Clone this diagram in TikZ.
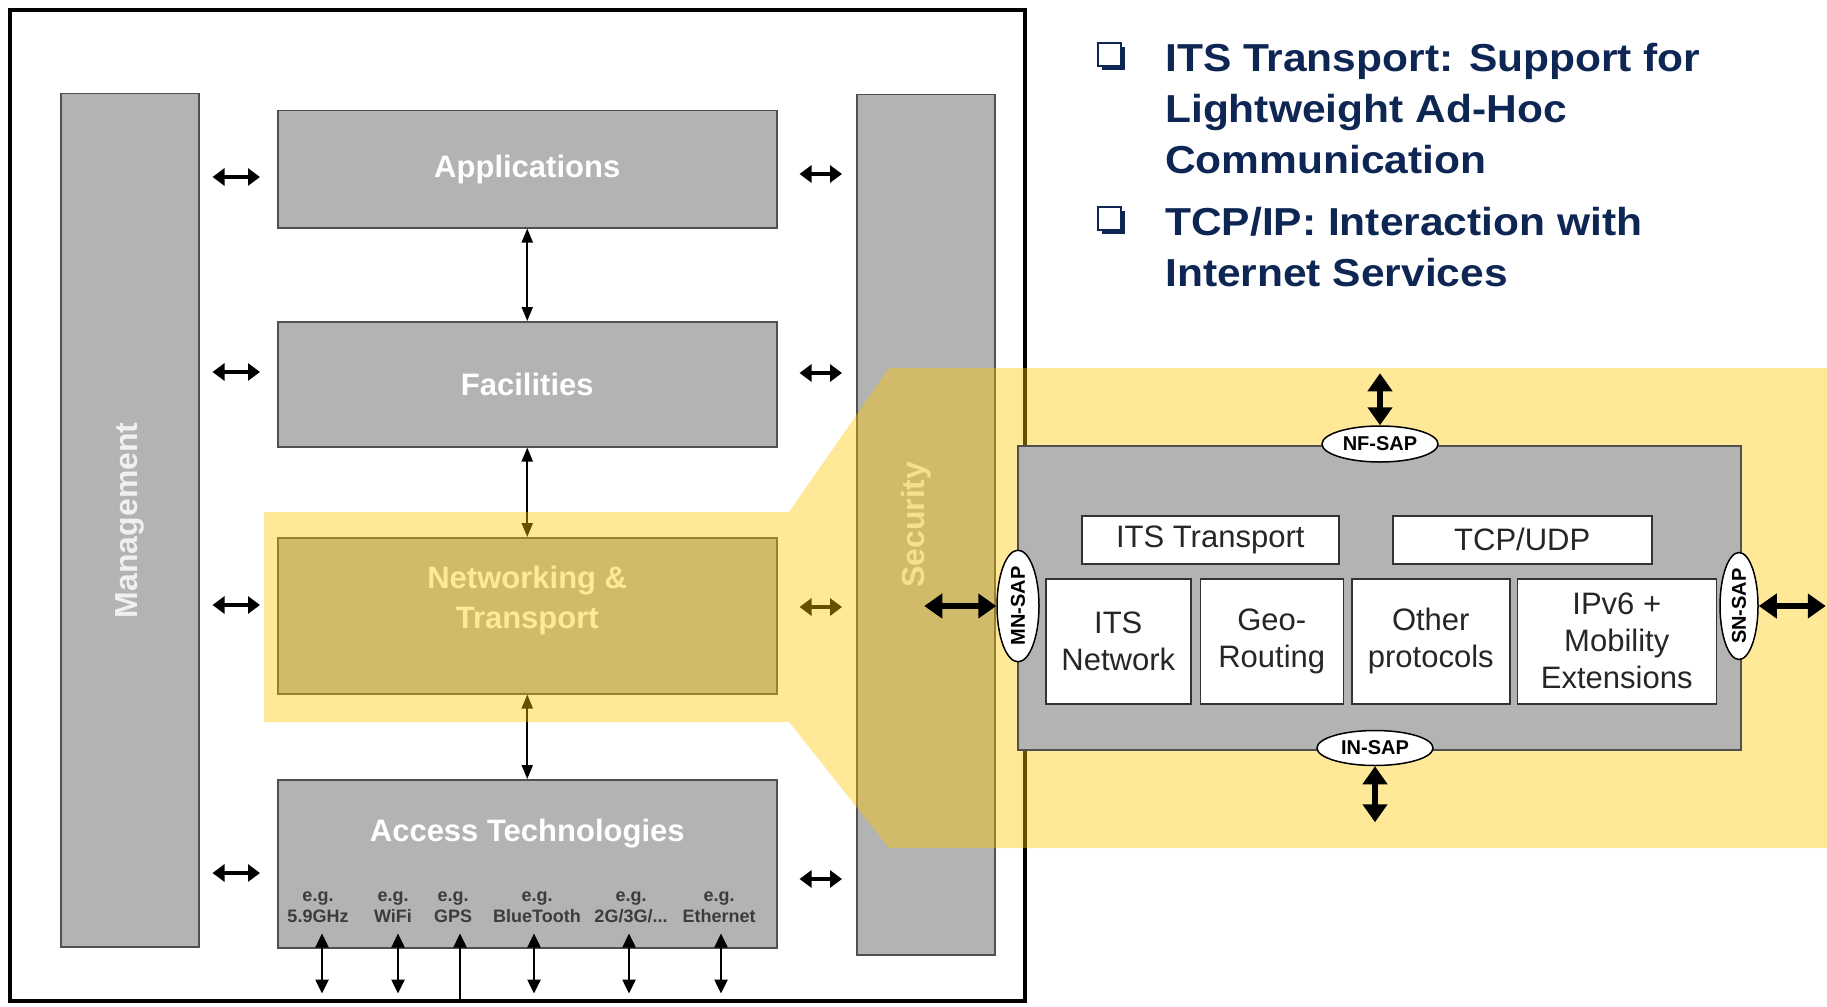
\documentclass[tikz,border=0pt]{standalone}
\usepackage{fontspec}
\setmainfont{Liberation Sans}
\newfontfamily\itemfont[FakeStretch=1.09]{Liberation Sans}
\usetikzlibrary{positioning,arrows.meta,shapes.geometric,shadows}

\definecolor{layergray}{RGB}{179,179,179}
\definecolor{edgegray}{RGB}{80,80,80}
\definecolor{hilite}{RGB}{255,200,0}
\definecolor{navy}{RGB}{14,38,84}
\definecolor{labelgray}{RGB}{60,60,60}

\tikzset{
  layer/.style={draw=edgegray, line width=1.5pt, fill=layergray, inner sep=0pt, anchor=north west},
  layertext/.style={text=white, font=\bfseries\fontsize{31}{40}\selectfont, align=center, inner sep=0pt},
  bartext/.style={text=white!94!black, font=\bfseries\fontsize{32}{32}\selectfont, rotate=90, inner sep=0pt},
  techtext/.style={text=labelgray, font=\bfseries\fontsize{18}{21}\selectfont, align=center, inner sep=0pt},
  proto/.style={draw=black!80, line width=1.5pt, fill=white, inner sep=0pt, align=center, font=\fontsize{31}{37}\selectfont, text=black!85},
  sap/.style={ellipse, draw=black, line width=1.5pt, fill=white, inner sep=0pt, font=\bfseries\fontsize{20}{20}\selectfont},
  sidearr/.style={line width=3.5pt, {Triangle[length=12pt,width=17pt]}-{Triangle[length=12pt,width=17pt]}},
  varr/.style={line width=2pt, {Triangle[length=14pt,width=11pt]}-{Triangle[length=14pt,width=11pt]}},
  tecarr/.style={line width=2.5pt, {Triangle[length=14pt,width=13pt]}-{Triangle[length=14pt,width=13pt]}},
  gpsarr/.style={line width=2.5pt, {Triangle[length=14pt,width=13pt]}-},
  fatarr/.style={line width=6pt, {Triangle[length=18pt,width=24pt]}-{Triangle[length=18pt,width=24pt]}},
  bullet/.style={draw=navy, line width=2pt, fill=white, minimum size=23pt, inner sep=0pt,
    drop shadow={shadow xshift=4pt, shadow yshift=-4pt, fill=navy, opacity=1}},
  itemtext/.style={text=navy, font=\itemfont\bfseries\fontsize{39}{51}\selectfont, align=left, inner sep=0pt, anchor=north west},
}

\begin{document}
\begin{tikzpicture}[x=1pt, y=-1pt]
    \useasboundingbox (0,0) rectangle (1827,1006);

    % Rahmen
    \draw[line width=4pt] (10,10) rectangle (1025,1001);

    % Seitenbalken
    \node[layer, minimum width=138pt, minimum height=853pt] (mgmt) at (60,93) {};
    \node[bartext] at (mgmt.center) {Management};
    \node[layer, minimum width=138pt, minimum height=860pt] (sec) at (856,94) {};
    \node[bartext] at ([xshift=-10pt]sec.center) {Security};

    % Schichten
    \node[layer, minimum width=499pt, minimum height=117pt] (app) at (277,110) {};
    \node[layertext] at (app.center) {Applications};
    \node[layer, minimum width=499pt, minimum height=125pt] (fac) at (277,321) {};
    \node[layertext] at (fac.center) {Facilities};
    \node[layer, minimum width=499pt, minimum height=156pt] (net) at (277,537) {};
    \node[layertext] at ([yshift=15pt]net.center) {Networking \&\\Transport};
    \node[layer, minimum width=499pt, minimum height=168pt] (acc) at (277,779) {};
    \node[layertext, anchor=north] at ([yshift=-40pt]acc.north) {Access Technologies};

    % Zugangstechnologien
    \foreach \x/\t in {318/5.9GHz, 393/WiFi, 453/GPS, 537/BlueTooth, 631/{2G/3G/...}, 719/Ethernet}
        \node[techtext] at (\x,907) {e.g.\\\t};
    \foreach \x in {322,398,534,629,721}
        \draw[tecarr] ([yshift=15pt]acc.south -| \x,0) -- ([yshift=-45pt]acc.south -| \x,0);
    \draw[gpsarr] ([yshift=15pt]acc.south -| 460,0) -- ([yshift=-52pt]acc.south -| 460,0);

    % Pfeile zwischen den Schichten
    \draw[varr] (app.south) -- (fac.north);
    \draw[varr] (fac.south) -- (net.north);
    \draw[varr] (net.south) -- (acc.north);

    % Pfeile zu Management und Security
    \foreach \y/\b in {177/app, 372/fac, 605/net, 873/acc}
        \draw[sidearr] ([xshift=13pt]mgmt.east |- 0,\y) -- ([xshift=-17pt]\b.west |- 0,\y);
    \foreach \y/\b in {174/app, 373/fac, 607/net, 879/acc}
        \draw[sidearr] ([xshift=22pt]\b.east |- 0,\y) -- ([xshift=-14pt]sec.west |- 0,\y);

    % Hervorhebung
    \fill[hilite, fill opacity=0.4] (264,512) -- (789,512) -- (889,368) -- (1827,368)
        -- (1827,848) -- (889,848) -- (789,722) -- (264,722) -- cycle;

    % Protokollstapel
    \node[layer, minimum width=723pt, minimum height=304pt] (stack) at (1017,445) {};
    \node[proto, minimum width=257pt, minimum height=48pt, anchor=north west] (itstp) at (1081,515) {ITS Transport};
    \node[proto, minimum width=259pt, minimum height=48pt, anchor=north west] (tcpudp) at (1392,515) {TCP/UDP};
    \node[proto, minimum width=145pt, minimum height=125pt, anchor=north west] (itsnet) at (1045,578) {ITS\\Network};
    \node[proto, minimum width=143pt, minimum height=125pt, right=8pt of itsnet] (georout) {Geo-\\Routing};
    \node[proto, minimum width=158pt, minimum height=125pt, right=7pt of georout] (otherp) {Other\\protocols};
    \node[proto, minimum width=199pt, minimum height=125pt, right=6pt of otherp] (ipsix) {IPv6 +\\Mobility\\Extensions};

    % Service Access Points
    \node[sap, minimum width=116pt, minimum height=36pt] (nfsap) at (1380,444) {NF-SAP};
    \node[sap, minimum width=116pt, minimum height=35pt] (insap) at (1375,748) {IN-SAP};
    \node[sap, rotate=90, minimum width=107pt, minimum height=42pt] (mnsap) at (1018,606) {MN-SAP};
    \node[sap, rotate=90, minimum width=107pt, minimum height=38pt] (snsap) at (1739,606) {SN-SAP};

    \coordinate (nfOut) at ([yshift=52pt]nfsap.north);
    \coordinate (inOut) at ([yshift=-56pt]insap.south);
    \coordinate (mnOut) at ([xshift=-72pt]mnsap.north);
    \coordinate (snOut) at ([xshift=67pt]snsap.south);
    \draw[fatarr] (nfOut) -- (nfsap.north);
    \draw[fatarr] (insap.south) -- (inOut);
    \draw[fatarr] (mnOut) -- (mnsap.north);
    \draw[fatarr] (snsap.south) -- (snOut);

    % Aufzaehlung
    \node[bullet] (bulA) at (1109,55) {};
    \node[itemtext] (itemA) at (1165,43) {ITS Transport: Support for\\Lightweight Ad-Hoc\\Communication};
    \node[bullet] (bulB) at (1109,218) {};
    \node[itemtext] (itemB) at (1165,207) {TCP/IP: Interaction with\\Internet Services};
\end{tikzpicture}
\end{document}
